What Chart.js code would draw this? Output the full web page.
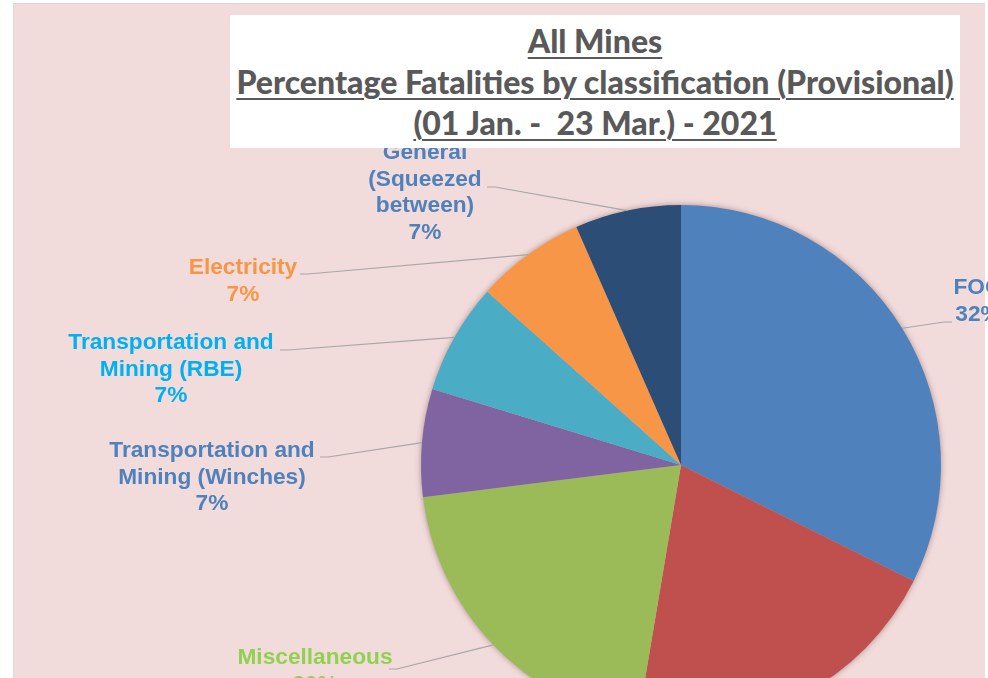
<!DOCTYPE html>
<html><head><meta charset="utf-8">
<script src="https://cdn.jsdelivr.net/npm/chart.js@4.4.1/dist/chart.umd.min.js"></script>
<style>
html,body{margin:0;padding:0;background:#fff;overflow:hidden;width:988px;height:678px;position:relative}
#frame{position:absolute;left:13px;top:3px;width:972px;height:680px;background:#f2dcdb;border-left:1px solid #dcdcdc;border-top:1px solid #d6d6d6;box-sizing:border-box}
#chartWrap{position:absolute;left:0;top:0;width:988px;height:678px;overflow:hidden}
#c{position:absolute;left:0;top:0}
#title{position:absolute;left:230px;top:15px;width:730px;height:133px;background:#fff;text-align:center;color:#595959;font-family:Lato,"Open Sans",sans-serif;font-weight:900;padding-top:5px;box-sizing:border-box}
#title div{line-height:41px;height:41px;white-space:nowrap}
#title span{text-decoration:underline;text-decoration-thickness:2px;text-underline-offset:4px}
</style></head>
<body>
<div id="frame"></div>
<div id="chartWrap"><canvas id="c" width="988" height="760"></canvas></div>
<div id="title"><div><span>All Mines</span></div><div><span id="t2">Percentage Fatalities by classification (Provisional)</span></div><div><span>(01 Jan. -&nbsp; 23 Mar.) - 2021</span></div></div>
<script>
// ---- data ----
const categories = ["FOG", "Machinery", "Miscellaneous", "Transportation and Mining (Winches)", "Transportation and Mining (RBE)", "Electricity", "General (Squeezed between)"];
const labelLines = [["FOG"], ["Machinery"], ["Miscellaneous"], ["Transportation and", "Mining (Winches)"], ["Transportation and", "Mining (RBE)"], ["Electricity"], ["General", "(Squeezed", "between)"]];
const shares = [32.4, 20.3, 20.4, 6.7, 6.9, 6.8, 6.6];
const sliceColors = ["#4f81bd", "#c0504d", "#9bbb59", "#8064a2", "#4bacc6", "#f79646", "#2c4d75"];
const labelColors = ["#4f81bd", "#c0504d", "#92d050", "#4f81bd", "#00b0f0", "#f79646", "#4f81bd"];

// ---- label layout (pixel placement of text and leader start) ----
const labelLayout = [
  {x: 978, y: 288, lx: 952, ly: 322, stub: -8},
  {x: 900, y: 730, lx: 860, ly: 720, stub: -8},
  {x: 315, y: 658, lx: 389, ly: 669, stub: 8},
  {x: 212, y: 451, lx: 320, ly: 457, stub: 8},
  {x: 171, y: 343, lx: 280, ly: 350, stub: 8},
  {x: 243, y: 268, lx: 300, ly: 274, stub: 8},
  {x: 425, y: 153, lx: 487, ly: 187, stub: 8}
];

// fit title font
(function(){
  const m = document.createElement('canvas').getContext('2d');
  m.font = '900 28px Lato';
  const w = m.measureText(document.getElementById('t2').textContent).width;
  const fs = 28 * 718 / w;
  document.getElementById('title').style.fontSize = fs.toFixed(2) + 'px';
})();

const shadowPlugin = {
  id: 'pieShadow',
  beforeDatasetsDraw(chart) {
    const arc = chart.getDatasetMeta(0).data[0];
    if (!arc) return;
    const ctx = chart.ctx;
    ctx.save();
    ctx.shadowColor = 'rgba(60,20,20,0.45)';
    ctx.shadowBlur = 6;
    ctx.fillStyle = '#c9b0b0';
    ctx.beginPath();
    ctx.arc(arc.x, arc.y, arc.outerRadius - 0.5, 0, Math.PI * 2);
    ctx.fill();
    ctx.restore();
  }
};

const labelPlugin = {
  id: 'leaderLabels',
  afterDatasetsDraw(chart) {
    const ctx = chart.ctx;
    const meta = chart.getDatasetMeta(0);
    meta.data.forEach((arc, i) => {
      const lay = labelLayout[i];
      const mid = (arc.startAngle + arc.endAngle) / 2;
      const ex = arc.x + Math.cos(mid) * arc.outerRadius;
      const ey = arc.y + Math.sin(mid) * arc.outerRadius;
      ctx.save();
      ctx.strokeStyle = '#a6a6a6';
      ctx.lineWidth = 1.2;
      ctx.beginPath();
      ctx.moveTo(lay.lx, lay.ly);
      ctx.lineTo(lay.lx + lay.stub, lay.ly);
      ctx.lineTo(ex, ey);
      ctx.stroke();
      const lines = labelLines[i].concat([Math.round(shares[i]) + '%']);
      ctx.font = 'bold 22.7px "Liberation Sans", Arial, sans-serif';
      ctx.fillStyle = labelColors[i];
      ctx.textAlign = 'center';
      ctx.textBaseline = 'middle';
      lines.forEach((t, k) => ctx.fillText(t, lay.x, lay.y + k * 26.5));
      ctx.restore();
    });
  }
};

new Chart(document.getElementById('c'), {
  type: 'pie',
  data: {
    labels: categories,
    datasets: [{
      data: shares,
      backgroundColor: sliceColors,
      borderWidth: 0,
      hoverOffset: 0,
      offset: 0
    }]
  },
  options: {
    responsive: false,
    animation: false,
    events: [],
    radius: 260,
    rotation: 0,
    layout: {padding: {left: 421, right: 47, top: 205, bottom: 35}},
    plugins: {legend: {display: false}, tooltip: {enabled: false}, title: {display: false}}
  },
  plugins: [shadowPlugin, labelPlugin]
});
</script>
</body></html>
